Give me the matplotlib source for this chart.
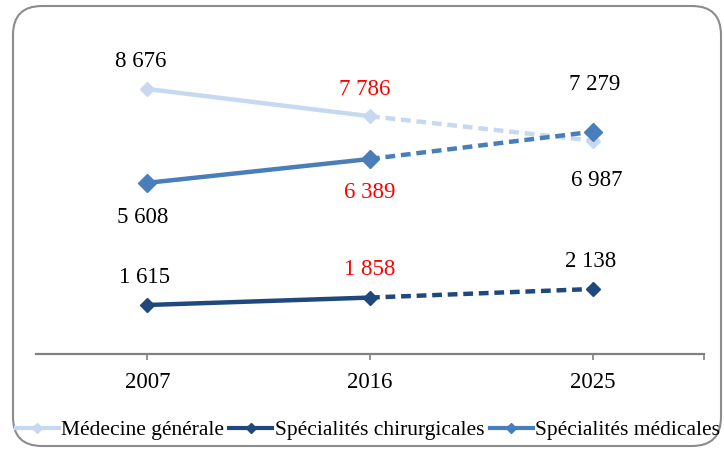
import matplotlib
matplotlib.use("Agg")
import matplotlib.pyplot as plt
from matplotlib.patches import FancyBboxPatch
from matplotlib.lines import Line2D

years = ["2007", "2016", "2025"]
series_names = ["Médecine générale", "Spécialités chirurgicales", "Spécialités médicales"]
medecine_generale = [8676, 7786, 6987]
spec_chirurgicales = [1615, 1858, 2138]
spec_medicales = [5608, 6389, 7279]

colors = {"mg": "#C6D9F0", "sc": "#1F487C", "sm": "#4A7EBB"}
label_colors = ["black", "red", "black"]

plt.rcParams["font.family"] = ["Liberation Serif", "DejaVu Serif"]

fig = plt.figure(figsize=(7.24, 4.5), dpi=100)
ax = fig.add_axes([36/724, 1-354.4/450, 668/724, (354.4-48.5)/450])

x = [0.5, 1.5, 2.5]

def draw(vals, color, ms, marker="D"):
    ax.plot(x[:2], vals[:2], color=color, lw=3.2, solid_capstyle="round", zorder=2)
    ax.plot(x[1:], vals[1:], color=color, lw=3.2, ls=(0, (2.2, 1.3)), zorder=2)
    ax.plot(x, vals, ls="none", marker=marker, ms=ms, color=color, zorder=3)

draw(medecine_generale, colors["mg"], 7)
draw(spec_medicales, colors["sm"], 9)
draw(spec_chirurgicales, colors["sc"], 7)

fs = 16.5
def lab(i, v, dx, dy):
    ax.annotate(f"{v:,}".replace(",", " "), (x[i], v), xytext=(dx, dy),
                textcoords="offset pixels", ha="center", va="center",
                fontsize=fs, color=label_colors[i])

# medecine generale
lab(0, medecine_generale[0], -7, 28)
lab(1, medecine_generale[1], -5, 27)
lab(2, medecine_generale[2], 4, -40)
# specialites medicales
lab(0, spec_medicales[0], -5, -35)
lab(1, spec_medicales[1], 0, -34)
lab(2, spec_medicales[2], 2, 47)
# chirurgicales
lab(0, spec_chirurgicales[0], -3, 27)
lab(1, spec_chirurgicales[1], 0, 28)
lab(2, spec_chirurgicales[2], -2, 27)

ax.set_xlim(0, 3)
ax.set_ylim(0, 10000)
ax.set_xticks(x)
ax.set_xticklabels(years, fontsize=fs)
ax.set_xticks([3.0], minor=True)
ax.tick_params(axis="x", which="both", length=4, width=1.2, color="#808080", pad=9)
ax.set_yticks([])
for s in ["top", "right", "left"]:
    ax.spines[s].set_visible(False)
ax.spines["bottom"].set_color("#808080")
ax.spines["bottom"].set_linewidth(1.6)
ax.patch.set_alpha(0)

frame = FancyBboxPatch((13/724, 4/450), (721-13)/724, (444-4)/450,
                       boxstyle="round,pad=0,rounding_size=0.04",
                       transform=fig.transFigure, fill=False,
                       edgecolor="#8C8C8C", lw=1.5, mutation_aspect=724/450)
fig.patches.append(frame)

handles = [
    Line2D([], [], color=colors["mg"], lw=3, marker="D", ms=5),
    Line2D([], [], color=colors["sc"], lw=3, marker="D", ms=5),
    Line2D([], [], color=colors["sm"], lw=3, marker="D", ms=5),
]
fig.legend(handles, series_names, loc="center", bbox_to_anchor=(0.508, 1-430/450),
           ncol=3, frameon=False, fontsize=15.5, handlelength=2.0,
           handletextpad=0.1, columnspacing=0.25, borderaxespad=0, borderpad=0)

fig.savefig("out.png", dpi=100)
